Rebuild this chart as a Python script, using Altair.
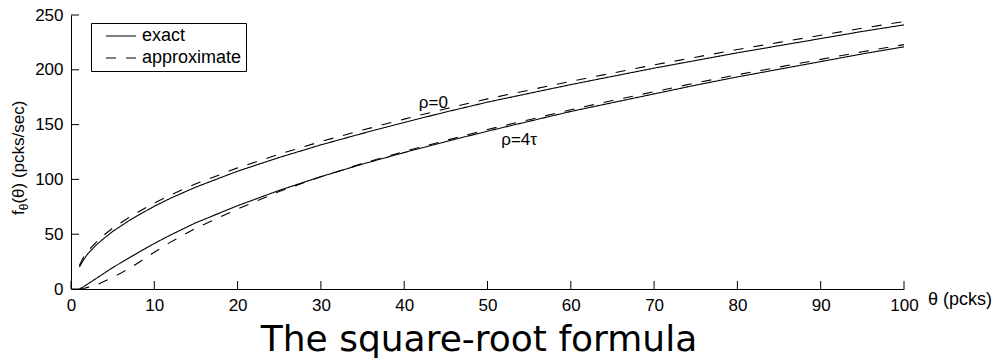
import altair as alt
import pandas as pd

# ---- data ----
theta = [1, 1.5, 2, 3, 4, 5, 6, 7, 8, 10, 12, 15, 20, 25, 30, 35, 40, 45, 50,
         55, 60, 65, 70, 75, 80, 85, 90, 95, 100]

rho0_exact = [20, 26.5, 32, 40, 46.5, 52.5, 57.5, 62.5, 67, 75.5, 83, 93, 107.5,
              120, 131.5, 142, 152, 161.5, 170.5, 178.5, 186.5, 194, 201.5,
              208.5, 215.5, 222, 228.5, 235, 241]
rho0_approx = [21.5, 29, 34.5, 42.5, 49.5, 55.5, 60.5, 65.5, 70, 78.5, 86, 96,
               110.5, 123, 134.5, 145, 155, 164.5, 173.5, 181.5, 189.5, 197,
               204.5, 211.5, 218.5, 225, 231.5, 238, 244]
rho4_exact = [0, 2, 4.5, 9.5, 14.5, 19.5, 24, 28.5, 33, 41.5, 49.5, 60.5, 76,
              90, 102.5, 114, 124.5, 134.5, 144, 153, 162, 170, 178, 186, 193.5,
              200.5, 207.5, 214.5, 221]
rho4_approx = [0, 0.5, 1.5, 3.5, 7, 10.5, 14.5, 19, 23.5, 33.5, 43, 55.5, 73,
               89, 102.5, 114.5, 125.5, 135.5, 145.5, 154.5, 163.5, 172, 180,
               188, 195.5, 202.5, 209.5, 216.5, 223]

kinds = ["exact", "approximate"]
x_ticks = [0, 10, 20, 30, 40, 50, 60, 70, 80, 90, 100]
y_ticks = [0, 50, 100, 150, 200, 250]

ann_theta = [43.5, 53.8]
ann_f = [170, 136]
ann_text = ["ρ=0", "ρ=4τ"]

title_text = "The square-root formula"
x_title = "θ (pcks)"

# ---- tables ----
rows = []
for rho, kind, vals in [("ρ=0", "exact", rho0_exact),
                        ("ρ=0", "approximate", rho0_approx),
                        ("ρ=4τ", "exact", rho4_exact),
                        ("ρ=4τ", "approximate", rho4_approx)]:
    for t, v in zip(theta, vals):
        rows.append({"theta": t, "f": v, "rho": rho, "kind": kind,
                     "series": rho + kind})
df = pd.DataFrame(rows)

FONT = "Liberation Sans"
xs = alt.Scale(domain=[0, 100], nice=False)
ys = alt.Scale(domain=[0, 250], nice=False)

axis_common = dict(title=None, grid=False, ticks=False, tickSize=0,
                   labelFontSize=17, labelFont=FONT, labelColor="black",
                   domainColor="black", domainWidth=1, labelFlush=False,
                   labelPadding=8)
x_axis = alt.Axis(values=x_ticks, **axis_common)
y_axis = alt.Axis(values=y_ticks, **axis_common)


def xenc():
    return alt.X("theta:Q", scale=xs, axis=x_axis)


def yenc():
    return alt.Y("f:Q", scale=ys, axis=y_axis)


lines = alt.Chart(df).mark_line(strokeWidth=1.1, color="black").encode(
    x=xenc(),
    y=yenc(),
    strokeDash=alt.StrokeDash(
        "kind:N",
        scale=alt.Scale(domain=kinds, range=[[1, 0], [10, 10]]),
        legend=alt.Legend(title=None, orient="none", legendX=20, legendY=8,
                          strokeColor="black", fillColor="white", padding=4,
                          symbolOffset=17, labelOffset=12, rowPadding=4,
                          symbolType="M-3,0H3", symbolSize=100,
                          symbolStrokeWidth=1, symbolStrokeColor="black",
                          labelFontSize=18, labelFont=FONT,
                          labelColor="black")),
    detail="series:N",
)

xt = alt.Chart(pd.DataFrame({"theta": x_ticks})).mark_rule(
    color="black", strokeWidth=1).encode(
    x=xenc(), y=alt.value(274), y2=alt.value(266))

yt = alt.Chart(pd.DataFrame({"f": y_ticks})).mark_rule(
    color="black", strokeWidth=1).encode(
    y=yenc(), x=alt.value(0), x2=alt.value(8))

ann = alt.Chart(pd.DataFrame({"theta": ann_theta, "f": ann_f,
                              "label": ann_text})).mark_text(
    font=FONT, fontSize=17, color="black", align="center",
    baseline="middle").encode(x=xenc(), y=yenc(), text="label:N")

xtitle = alt.Chart(pd.DataFrame({"t": [x_title]})).mark_text(
    font=FONT, fontSize=18, color="black", align="left",
    baseline="middle").encode(x=alt.value(857), y=alt.value(285), text="t:N")

yt_f = alt.Chart(pd.DataFrame({"t": ["f"]})).mark_text(
    font=FONT, fontSize=17, color="black", align="left", angle=270,
    baseline="alphabetic").encode(x=alt.value(-47), y=alt.value(200),
                                  text="t:N")
yt_sub = alt.Chart(pd.DataFrame({"t": ["θ"]})).mark_text(
    font=FONT, fontSize=12, color="black", align="left", angle=270,
    baseline="alphabetic").encode(x=alt.value(-43), y=alt.value(195.3),
                                  text="t:N")
yt_rest = alt.Chart(pd.DataFrame({"t": ["(θ) (pcks/sec)"]})).mark_text(
    font=FONT, fontSize=17, color="black", align="left", angle=270,
    baseline="alphabetic").encode(x=alt.value(-47), y=alt.value(188.6),
                                  text="t:N")

big_title = alt.Chart(pd.DataFrame({"t": [title_text]})).mark_text(
    font="DejaVu Sans", fontSize=36, color="black", align="center",
    baseline="alphabetic").encode(x=alt.value(408), y=alt.value(336),
                                  text="t:N")

chart = alt.layer(lines, xt, yt, ann, xtitle, yt_f, yt_sub, yt_rest,
                  big_title).properties(
    width=833, height=274,
    padding={"left": 71, "top": 15, "right": 93, "bottom": 71},
    autosize=alt.AutoSizeParams(type="none"),
    background="white",
).configure_view(stroke=None)

chart.save("out.html", embed_options={"renderer": "svg", "actions": False})
